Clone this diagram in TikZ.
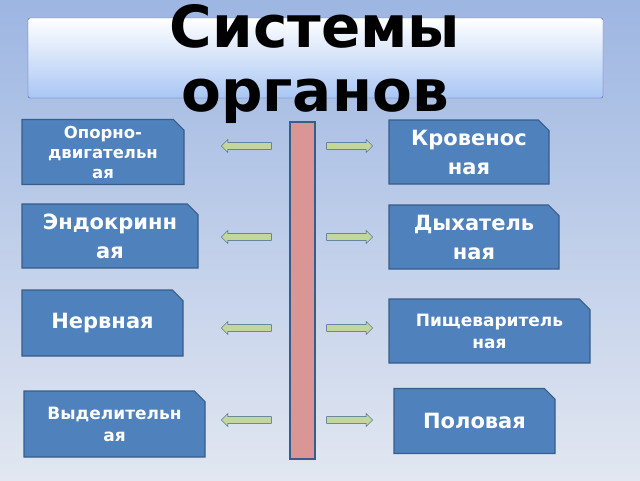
\documentclass[tikz,border=0pt]{standalone}
\usepackage{fontspec}
\setmainfont{DejaVu Sans}
\usetikzlibrary{shapes.misc,shapes.arrows}
\definecolor{boxblue}{HTML}{4F81BD}
\definecolor{boxline}{HTML}{385D8A}
\definecolor{arrgreen}{HTML}{C3D69B}
\definecolor{barred}{HTML}{D99694}
\definecolor{bgtop}{HTML}{9DB6E2}
\definecolor{bgbot}{HTML}{E2E7F1}
\definecolor{ttlbot}{HTML}{A9C6F4}
\tikzset{
  organ/.style={chamfered rectangle, chamfered rectangle corners=north east,
    chamfered rectangle xsep=7pt, fill=boxblue, draw=boxline, line width=1.2pt,
    text=white, font=\bfseries, align=center, inner sep=0pt},
  larr/.style={single arrow, shape border rotate=180, fill=arrgreen, draw=boxline,
    minimum height=50pt, minimum width=13pt, single arrow head extend=3pt, inner sep=3pt},
  rarr/.style={larr, shape border rotate=0, minimum height=46pt}
}
\begin{document}
\begin{tikzpicture}[x=1pt,y=-1pt]
\shade[top color=bgtop, bottom color=bgbot] (0,0) rectangle (640,480);
\useasboundingbox (0,0) rectangle (640,480);
% title
\shade[top color=white, bottom color=ttlbot, draw=blue!30!gray, rounded corners=2pt]
  (28,18) rectangle (603,98);
\node[font=\bfseries\fontsize{58}{64}\selectfont, align=center] (title) at (315,64) {Системы\\органов};
% bar
\node[fill=barred, draw=boxline, line width=1.2pt, minimum width=25pt, minimum height=337pt, inner sep=0pt] (bar) at (302.5,290.5) {};
% left boxes
\node[organ, minimum width=162pt, minimum height=65pt, font=\bfseries\fontsize{16.5}{20}\selectfont] (opor) at (103,152) {Опорно-\\двигательн\\ая};
\node[organ, minimum width=176pt, minimum height=64pt, font=\bfseries\fontsize{21}{29}\selectfont] (endo) at (110,236) {Эндокринн\\ая};
\node[organ, minimum width=161pt, minimum height=66pt, font=\bfseries\fontsize{21}{24}\selectfont] (nerv) at (102.5,323) {Нервная};
\node[organ, minimum width=181pt, minimum height=66pt, font=\bfseries\fontsize{17}{22}\selectfont] (vyd) at (114.5,424) {Выделительн\\ая};
% right boxes
\node[organ, minimum width=160pt, minimum height=64pt, font=\bfseries\fontsize{21}{29}\selectfont] (krov) at (469,152) {Кровенос\\ная};
\node[organ, minimum width=170pt, minimum height=64pt, font=\bfseries\fontsize{21}{29}\selectfont] (dykh) at (474,237) {Дыхатель\\ная};
\node[organ, minimum width=201pt, minimum height=64pt, font=\bfseries\fontsize{17}{22}\selectfont] (pish) at (489.5,331) {Пищеваритель\\ная};
\node[organ, minimum width=161pt, minimum height=65pt, font=\bfseries\fontsize{21}{24}\selectfont] (polo) at (474.5,421) {Половая};
% arrows
\foreach \y [count=\i] in {146,237,328,420} {
  \node[larr] (la\i) at (248,\y) {};
  \node[rarr] (ra\i) at (348,\y) {};
}
\end{tikzpicture}
\end{document}
